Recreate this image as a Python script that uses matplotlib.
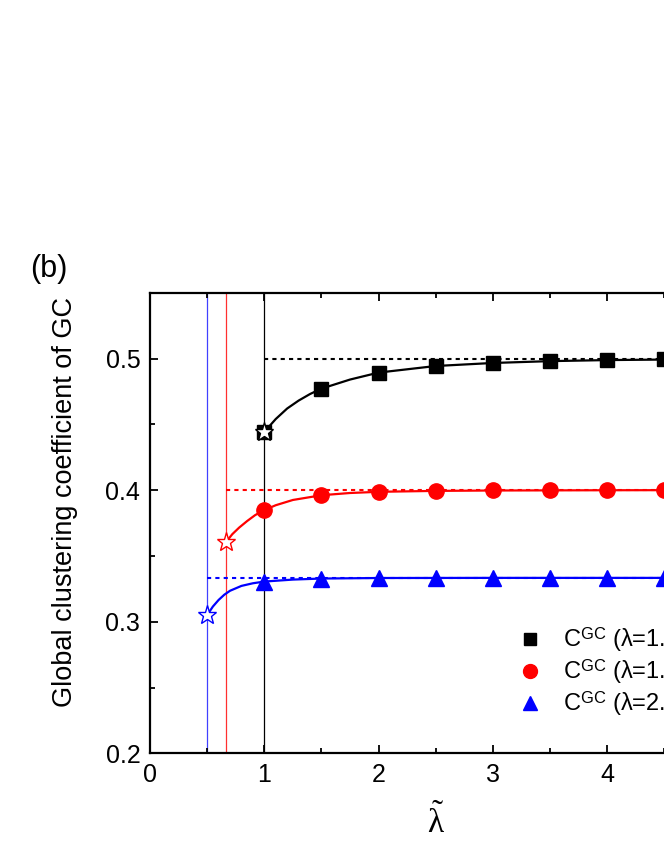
import matplotlib
matplotlib.use("Agg")
import matplotlib.pyplot as plt
from matplotlib.lines import Line2D

plt.rcParams['font.family'] = ['Liberation Sans', 'DejaVu Sans']
plt.rcParams['mathtext.fontset'] = 'custom'
plt.rcParams['mathtext.rm'] = 'Liberation Serif'
plt.rcParams['mathtext.it'] = 'Liberation Serif:italic'
plt.rcParams['mathtext.sf'] = 'Liberation Sans'

# ---- data ----
lam_labels = ["1.0", "1.5", "2.0"]
colors = ["black", "red", "blue"]
markers = ["s", "o", "^"]

# simulation points
x_pts = [1.0, 1.5, 2.0, 2.5, 3.0, 3.5, 4.0, 4.5, 5.0]
black_pts = [0.4442, 0.4771, 0.4893, 0.4943, 0.4966, 0.4984, 0.4992, 0.4994, 0.4995]
red_pts = [0.3848, 0.3961, 0.3987, 0.3994, 0.3997, 0.3998, 0.3999, 0.4000, 0.4000]
blue_pts = [0.3300, 0.3328, 0.3332, 0.3333, 0.3333, 0.3333, 0.3334, 0.3334, 0.3334]

# theory curves
black_cx = [1.0, 1.1, 1.2, 1.3, 1.4, 1.5, 1.75, 2.0, 2.5, 3.0, 3.5, 4.0, 4.5, 5.0]
black_cy = [0.4442, 0.4540, 0.4620, 0.4680, 0.4730, 0.4771, 0.4840, 0.4893, 0.4943, 0.4966,
            0.4980, 0.4988, 0.4992, 0.4994]
red_cx = [0.667, 0.72, 0.78, 0.85, 0.92, 1.0, 1.1, 1.25, 1.5, 1.75, 2.0, 2.5, 3.0, 4.0, 5.0]
red_cy = [0.3607, 0.3665, 0.3715, 0.3765, 0.3810, 0.3848, 0.3885, 0.3925, 0.3961, 0.3978,
          0.3987, 0.3994, 0.3997, 0.3999, 0.4000]
blue_cx = [0.5, 0.55, 0.6, 0.65, 0.7, 0.8, 0.9, 1.0, 1.25, 1.5, 2.0, 3.0, 5.0]
blue_cy = [0.3050, 0.3115, 0.3165, 0.3205, 0.3235, 0.3272, 0.3292, 0.3305, 0.3320, 0.3328,
           0.3332, 0.3333, 0.3333]

# limits (dashed) and threshold positions (stars / vertical lines)
limits = [0.5, 0.4, 0.3333]
star_x = [1.0, 0.667, 0.5]
star_y = [0.4442, 0.3607, 0.3050]

# ---- figure ----
W, H = 664, 860
fig = plt.figure(figsize=(W / 100, H / 100), dpi=100)
px_per_unit = 114.3
ax = fig.add_axes([150 / W, 106.7 / H, 5 * px_per_unit / W, (753.3 - 292.7) / H])
ax.set_xlim(0, 5)
ax.set_ylim(0.2, 0.55)

# vertical threshold lines
vcols = ["black", "#ff3030", "#4040ff"]
for xv, c in zip(star_x, vcols):
    ax.axvline(xv, color=c, lw=0.9, zorder=1)

# dashed limits
for xv, lv, c in zip(star_x, limits, colors):
    ax.plot([xv, 5.0], [lv, lv], color=c, lw=1.5, ls=(0, (2, 2)), zorder=2)

# theory curves
ax.plot(black_cx, black_cy, color="black", lw=1.6, zorder=3)
ax.plot(red_cx, red_cy, color="red", lw=1.6, zorder=3)
ax.plot(blue_cx, blue_cy, color="blue", lw=1.6, zorder=3)

# points
pts = [black_pts, red_pts, blue_pts]
for ys, c, m in zip(pts, colors, markers):
    ms = 10 if m == "s" else 11
    ax.plot(x_pts, ys, ls="none", marker=m, color=c, ms=ms, zorder=4)

# stars
for xs, ys, c in zip(star_x, star_y, colors):
    ax.plot([xs], [ys], ls="none", marker="*", ms=14, mfc="white", mec=c, mew=1.0, zorder=5)

ax.set_xticks([0, 1, 2, 3, 4, 5])
ax.set_yticks([0.2, 0.3, 0.4, 0.5])
ax.set_xticks([0.5, 1.5, 2.5, 3.5, 4.5], minor=True)
ax.set_yticks([0.25, 0.35, 0.45], minor=True)
ax.tick_params(which="both", direction="in", top=True, right=True, labelsize=18, width=1.3)
ax.tick_params(which="major", length=6, pad=7)
ax.tick_params(which="minor", length=3.5)
for s in ax.spines.values():
    s.set_linewidth(1.6)

fig.text(65 / W, 1 - 502 / H, "Global clustering coefficient of GC", fontsize=19.5,
         rotation=90, ha="center", va="center")
ax.set_xlabel(r"$\mathrm{\tilde{\lambda}}$", fontsize=24, labelpad=12)

fig.text(30 / W, 1 - 284 / H, "(b)", fontsize=22, ha="left", va="bottom")

handles = [Line2D([], [], ls="none", marker=m, color=c, ms=9 if m == "s" else 10)
           for m, c in zip(markers, colors)]
labels = [r"C$^{\mathsf{GC}}$ (λ=" + l + ")" for l in lam_labels]
ax.legend(handles, labels, loc="upper left", bbox_to_anchor=(503 / W, 1 - 616 / H),
          bbox_transform=fig.transFigure, frameon=False, fontsize=17,
          handletextpad=0.64, labelspacing=0.14, handlelength=1.5, borderaxespad=0)

fig.savefig("out.png", dpi=100)
